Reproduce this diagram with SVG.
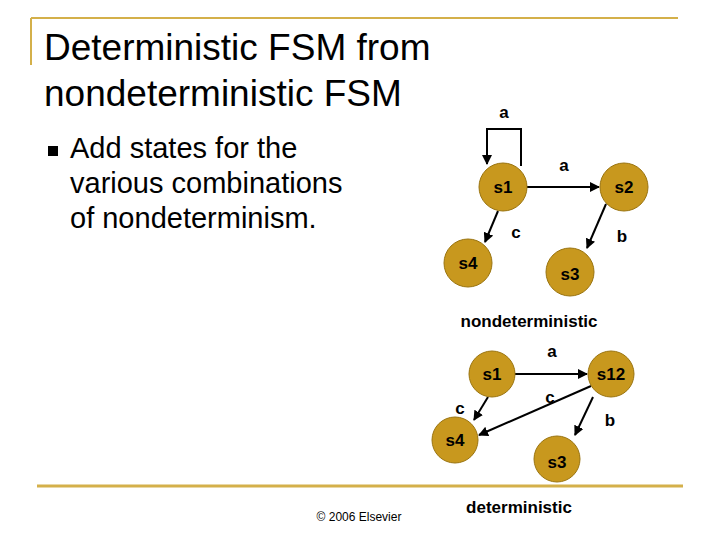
<svg xmlns="http://www.w3.org/2000/svg" width="720" height="540" viewBox="0 0 720 540">
<style>
.st{fill:#C8981E;stroke:#9A7410;stroke-width:1}
.sl{font-family:"Liberation Sans",Arial,sans-serif;font-size:17px;font-weight:bold;text-anchor:middle;dominant-baseline:central;fill:#000}
.e{stroke:#000;stroke-width:2;fill:none;marker-end:url(#ar)}
.lb{font-family:"Liberation Sans",Arial,sans-serif;font-size:17px;font-weight:bold;text-anchor:middle;fill:#000}
</style>
<defs><marker id="ar" viewBox="0 0 10 10" refX="9" refY="5" markerWidth="5" markerHeight="5" orient="auto"><path d="M0,0L10,5L0,10z" fill="#000"/></marker></defs>
<rect width="720" height="540" fill="#fff"/>
<path d="M31,18H678M31,18V65" stroke="#D4B04A" stroke-width="2" fill="none"/>
<path d="M37,486H683" stroke="#D4B04A" stroke-width="3" fill="none"/>
<text x="44" y="60" font-family="Liberation Sans,Arial,sans-serif" font-size="37">Deterministic FSM from</text>
<text x="44" y="106" font-family="Liberation Sans,Arial,sans-serif" font-size="37">nondeterministic FSM</text>
<rect x="48" y="146" width="10" height="10" fill="#000"/>
<text font-family="Liberation Sans,Arial,sans-serif" font-size="29"><tspan x="70" y="158">Add states for the</tspan><tspan x="70" y="193">various combinations</tspan><tspan x="70" y="228">of nondeterminism.</tspan></text>
<g id="connectors">
<path class="e" d="M521,166V129H487V164"/>
<path class="e" d="M527,187H599"/>
<path class="e" d="M498,211L485,242"/>
<path class="e" d="M606,204L587,248"/>
<path class="e" d="M515,374H587"/>
<path class="e" d="M488,397L474,420"/>
<path class="e" d="M591,386L479,435"/>
<path class="e" d="M593,397L575,435"/>
</g>
<g id="labels">
<text class="lb" x="504" y="118">a</text>
<text class="lb" x="564" y="171">a</text>
<text class="lb" x="516" y="238">c</text>
<text class="lb" x="622" y="242">b</text>
<text class="lb" x="552" y="357">a</text>
<text class="lb" x="460" y="414">c</text>
<text class="lb" x="550" y="403">c</text>
<text class="lb" x="610" y="426">b</text>
</g>
<g id="n-s1"><circle class="st" cx="503" cy="187" r="24"/><text class="sl" x="503" y="187">s1</text></g>
<g id="n-s2"><circle class="st" cx="624" cy="187" r="24"/><text class="sl" x="624" y="187">s2</text></g>
<g id="n-s4"><circle class="st" cx="468" cy="263" r="24"/><text class="sl" x="468" y="263">s4</text></g>
<g id="n-s3"><circle class="st" cx="570" cy="272" r="24"/><text class="sl" x="570" y="274">s3</text></g>
<text class="lb" x="529" y="327">nondeterministic</text>
<g id="n-b-s1"><circle class="st" cx="492" cy="374" r="23"/><text class="sl" x="492" y="374">s1</text></g>
<g id="n-b-s12"><circle class="st" cx="611" cy="374" r="23"/><text class="sl" x="611" y="374">s12</text></g>
<g id="n-b-s4"><circle class="st" cx="455" cy="440" r="23"/><text class="sl" x="455" y="452" dy="-12">s4</text></g>
<g id="n-b-s3"><circle class="st" cx="557" cy="459" r="23"/><text class="sl" x="557" y="462">s3</text></g>
<text class="lb" x="519" y="513">deterministic</text>
<text x="359" y="521" font-family="Liberation Sans,Arial,sans-serif" font-size="12" text-anchor="middle">© 2006 Elsevier</text>
</svg>
